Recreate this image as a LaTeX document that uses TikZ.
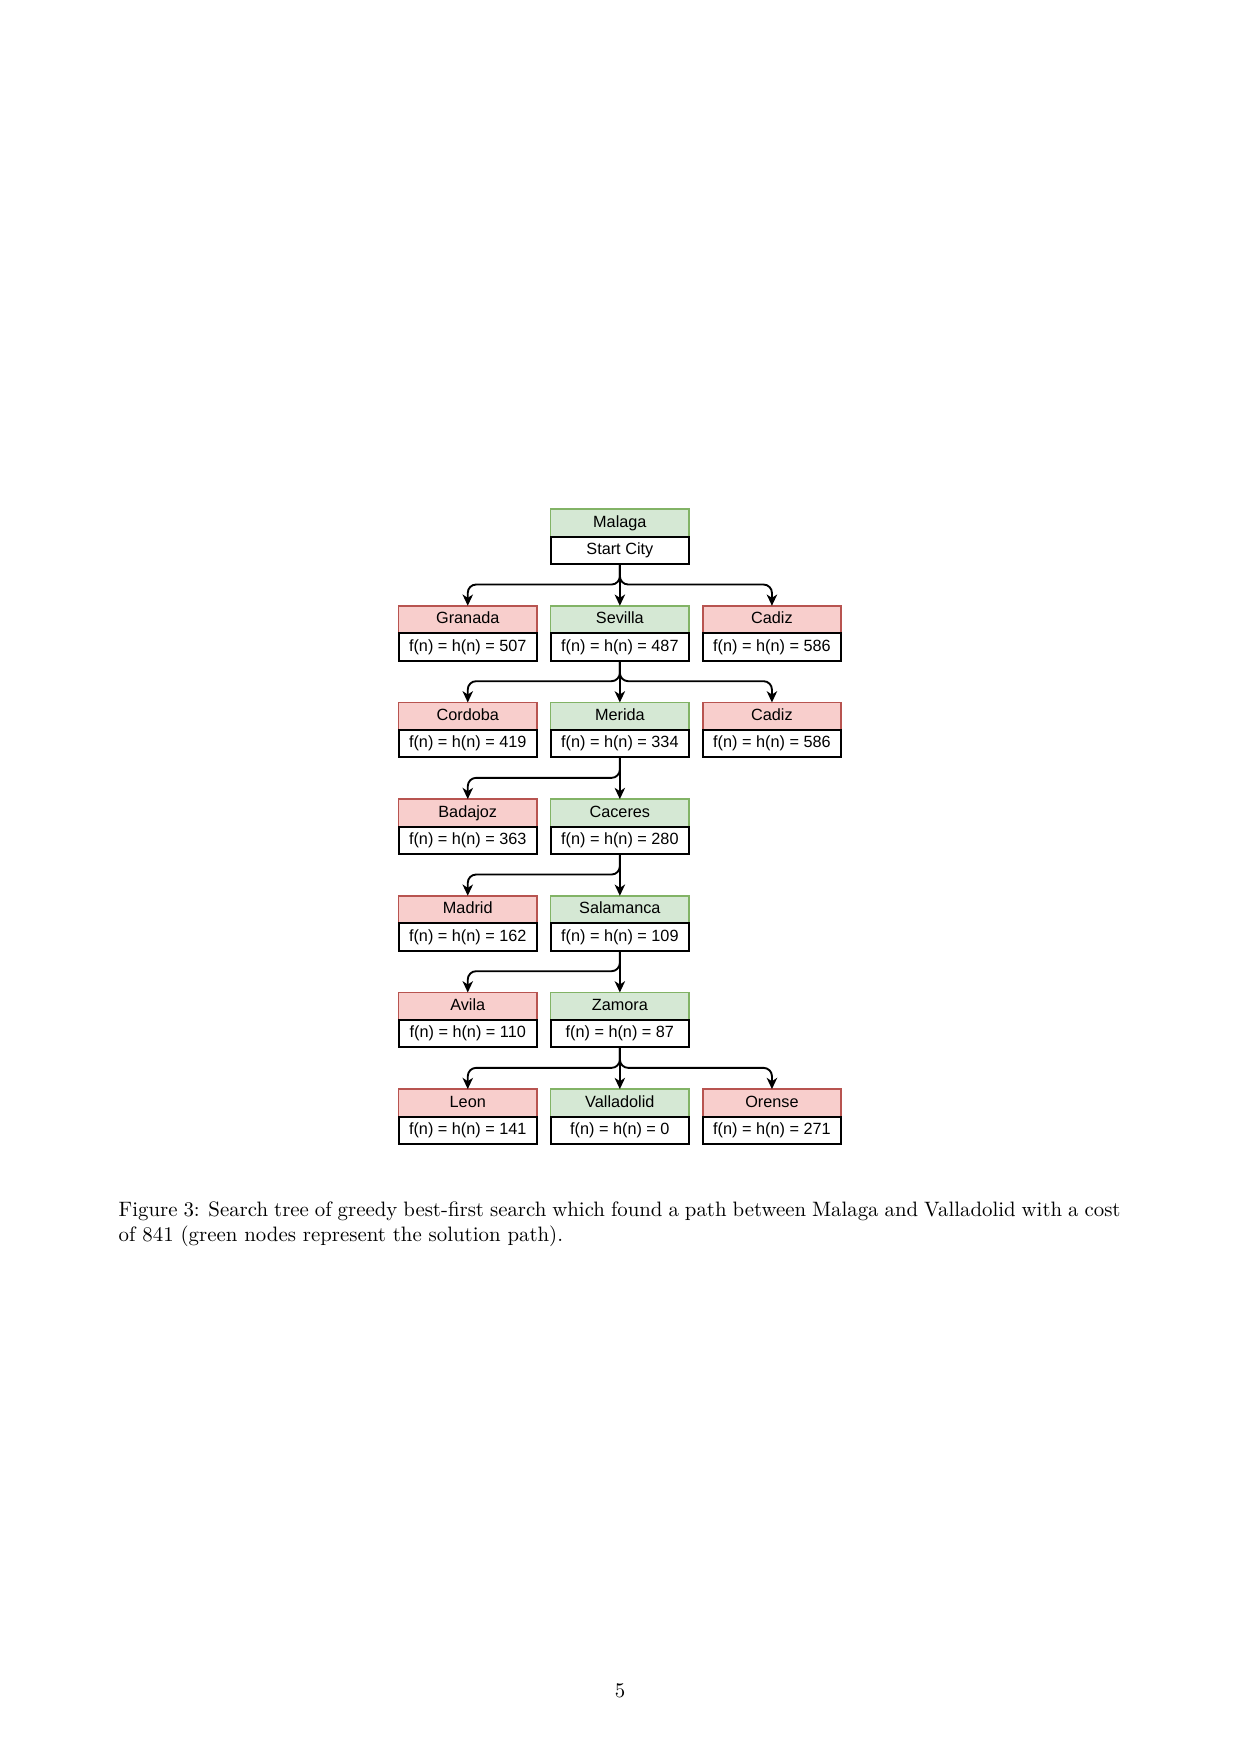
\documentclass[tikz,border=0pt]{standalone}
\usepackage{fontspec}
\newfontfamily\drawiofont{Liberation Sans}
\usepackage{tikz}
\usetikzlibrary{positioning, arrows.meta}

\definecolor{redfill}{HTML}{F8CECC}
\definecolor{redline}{HTML}{B85450}
\definecolor{greenfill}{HTML}{D5E8D4}
\definecolor{greenline}{HTML}{82B366}

\begin{document}
\begin{tikzpicture}[x=0.48pt, y=-0.48pt,
	box/.style={rectangle, inner sep=0pt, outer sep=0pt, minimum width=66.4pt, minimum height=13.2pt,
		text height=5.6pt, text depth=1.6pt, font=\drawiofont\fontsize{7.8}{9}\selectfont},
	chosen/.style={box, draw=greenline, fill=greenfill, line width=0.7pt},
	rejected/.style={box, draw=redline, fill=redfill, line width=0.7pt},
	fval/.style={box, draw=black, fill=white, line width=1pt},
	branch/.style={rounded corners=4pt, to path={|- ([yshift=10.2pt]\tikztotarget) -- (\tikztotarget)}},
	every edge/.style={draw, line width=0.9pt, -{Stealth[length=5.4pt, width=5pt, inset=1.6pt]}}
	]
	\useasboundingbox (0,0) rectangle (1240,1754);
	
	\node[chosen] (malaga) at (619.85,522.85) {Malaga};
	\node[fval, below=0pt of malaga] (malaga-f) {Start City};
	
	\node[chosen, below=20pt of malaga-f] (sevilla) {Sevilla};
	\node[fval, below=0pt of sevilla] (sevilla-f) {f(n) = h(n) = 487};
	\node[rejected, left=6.6pt of sevilla] (granada) {Granada};
	\node[fval, below=0pt of granada] (granada-f) {f(n) = h(n) = 507};
	\node[rejected, right=6.6pt of sevilla] (cadiz) {Cadiz};
	\node[fval, below=0pt of cadiz] (cadiz-f) {f(n) = h(n) = 586};
	
	\node[chosen, below=20pt of sevilla-f] (merida) {Merida};
	\node[fval, below=0pt of merida] (merida-f) {f(n) = h(n) = 334};
	\node[rejected, left=6.6pt of merida] (cordoba) {Cordoba};
	\node[fval, below=0pt of cordoba] (cordoba-f) {f(n) = h(n) = 419};
	\node[rejected, right=6.6pt of merida] (cadiz2) {Cadiz};
	\node[fval, below=0pt of cadiz2] (cadiz2-f) {f(n) = h(n) = 586};
	
	\node[chosen, below=20pt of merida-f] (caceres) {Caceres};
	\node[fval, below=0pt of caceres] (caceres-f) {f(n) = h(n) = 280};
	\node[rejected, left=6.6pt of caceres] (badajoz) {Badajoz};
	\node[fval, below=0pt of badajoz] (badajoz-f) {f(n) = h(n) = 363};
	
	\node[chosen, below=20pt of caceres-f] (salamanca) {Salamanca};
	\node[fval, below=0pt of salamanca] (salamanca-f) {f(n) = h(n) = 109};
	\node[rejected, left=6.6pt of salamanca] (madrid) {Madrid};
	\node[fval, below=0pt of madrid] (madrid-f) {f(n) = h(n) = 162};
	
	\node[chosen, below=20pt of salamanca-f] (zamora) {Zamora};
	\node[fval, below=0pt of zamora] (zamora-f) {f(n) = h(n) = 87};
	\node[rejected, left=6.6pt of zamora] (avila) {Avila};
	\node[fval, below=0pt of avila] (avila-f) {f(n) = h(n) = 110};
	
	\node[chosen, below=20pt of zamora-f] (valladolid) {Valladolid};
	\node[fval, below=0pt of valladolid] (valladolid-f) {f(n) = h(n) = 0};
	\node[rejected, left=6.6pt of valladolid] (leon) {Leon};
	\node[fval, below=0pt of leon] (leon-f) {f(n) = h(n) = 141};
	\node[rejected, right=6.6pt of valladolid] (orense) {Orense};
	\node[fval, below=0pt of orense] (orense-f) {f(n) = h(n) = 271};
	
	\path
	(malaga-f.south) edge[branch] (granada.north)
	(malaga-f.south) edge (sevilla.north)
	(malaga-f.south) edge[branch] (cadiz.north)
	(sevilla-f.south) edge[branch] (cordoba.north)
	(sevilla-f.south) edge (merida.north)
	(sevilla-f.south) edge[branch] (cadiz2.north)
	(merida-f.south) edge[branch] (badajoz.north)
	(merida-f.south) edge (caceres.north)
	(caceres-f.south) edge[branch] (madrid.north)
	(caceres-f.south) edge (salamanca.north)
	(salamanca-f.south) edge[branch] (avila.north)
	(salamanca-f.south) edge (zamora.north)
	(zamora-f.south) edge[branch] (leon.north)
	(zamora-f.south) edge (valladolid.north)
	(zamora-f.south) edge[branch] (orense.north);
	
	\node[anchor=north west, inner sep=0pt, text width=480.9pt, align=justify,
		font=\fontsize{10}{12}\selectfont] (caption) at (118.3,1201.5)
		{Figure 3: Search tree of greedy best-first search which found a path between Malaga and Valladolid with a cost\linebreak of 841 (green nodes represent the solution path).};
	\node[anchor=base, inner sep=0pt, font=\fontsize{10}{12}\selectfont] (pagenum) at (620,1697.7) {5};
\end{tikzpicture}
\end{document}
